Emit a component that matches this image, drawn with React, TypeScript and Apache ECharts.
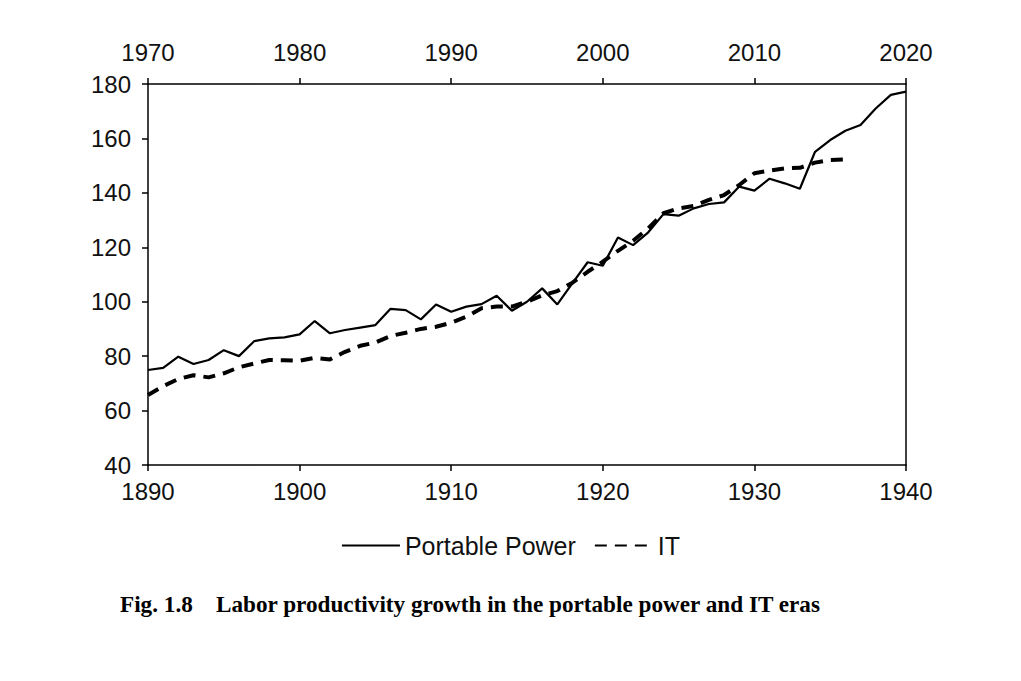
import React, { useEffect, useRef } from "react";
import * as echarts from "echarts";

const ppYears = [1890,1891,1892,1893,1894,1895,1896,1897,1898,1899,1900,1901,1902,1903,1904,1905,1906,1907,1908,1909,1910,1911,1912,1913,1914,1915,1916,1917,1918,1919,1920,1921,1922,1923,1924,1925,1926,1927,1928,1929,1930,1931,1932,1933,1934,1935,1936,1937,1938,1939,1940];
const ppValues = [74.9,75.7,79.8,77.1,78.6,82.2,80,85.5,86.5,86.9,88,92.9,88.4,89.6,90.5,91.4,97.4,96.9,93.5,99,96.3,98.2,99.1,102.2,96.7,100,104.9,99,106.8,114.5,113.2,123.6,120.8,125.5,132.2,131.6,134.3,135.9,136.5,142.3,140.8,145.2,143.5,141.5,155.1,159.4,162.8,164.9,171,176,177.2];
const itYears = [1970,1971,1972,1973,1974,1975,1976,1977,1978,1979,1980,1981,1982,1983,1984,1985,1986,1987,1988,1989,1990,1991,1992,1993,1994,1995,1996,1997,1998,1999,2000,2001,2002,2003,2004,2005,2006,2007,2008,2009,2010,2011,2012,2013,2014,2015,2016];
const itValues = [65.7,69,71.6,73,72.2,73.7,75.9,77.3,78.6,78.5,78.3,79.4,78.8,81.6,83.8,85,87.4,88.6,90,90.8,92.3,94.5,97.6,98.2,98.2,100,102.3,103.9,107,111,114.7,118.7,122.4,127,132.5,134.3,135.2,137.4,139.2,142.9,147.2,148.2,149,149.2,151.1,152.1,152.3];

const bottomAxis = { min: 1890, max: 1940, interval: 10 };
const topAxis = { min: 1970, max: 2020, interval: 10 };
const yRange = { min: 40, max: 180, interval: 20 };

const seriesNames = ["Portable Power", "IT"];
const captionText = "Fig. 1.8    Labor productivity growth in the portable power and IT eras";

const FONT = "'Liberation Sans', Arial, sans-serif";

export default function App() {
  const ref = useRef<HTMLDivElement>(null);
  useEffect(() => {
    if (!ref.current) return;
    const chart = echarts.init(ref.current, null, { renderer: "svg" });
    const axisLine = { show: true, lineStyle: { color: "#000", width: 1.5 } };
    const axisTick = { show: true, length: 6, lineStyle: { color: "#000", width: 1.5 } };
    const axisLabel = {
      color: "#111",
      fontSize: 24,
      fontFamily: FONT,
      formatter: (v: number) => String(v),
    };
    chart.setOption({
      animation: false,
      backgroundColor: "#fff",
      grid: { left: 140, right: 107, top: 76, bottom: 208, containLabel: false },
      xAxis: [
        {
          type: "value",
          position: "bottom",
          ...bottomAxis,
          axisLine,
          axisTick,
          axisLabel: { ...axisLabel, margin: 14 },
          splitLine: { show: false },
        },
        {
          type: "value",
          position: "top",
          ...topAxis,
          axisLine,
          axisTick,
          axisLabel: { ...axisLabel, margin: 20 },
          splitLine: { show: false },
        },
      ],
      yAxis: [
        {
          type: "value",
          position: "left",
          ...yRange,
          axisLine,
          axisTick,
          axisLabel: { ...axisLabel, margin: 17 },
          splitLine: { show: false },
        },
        {
          type: "value",
          position: "right",
          ...yRange,
          axisLine,
          axisTick: { show: false },
          axisLabel: { show: false },
          splitLine: { show: false },
        },
      ],
      legend: {
        show: true,
        top: 520,
        left: "center",
        itemWidth: 58,
        itemHeight: 14,
        itemGap: 18,
        itemStyle: { opacity: 0 },
        textStyle: { color: "#111", fontSize: 25, fontFamily: FONT },
        data: seriesNames,
      },
      title: {
        text: captionText,
        left: 107,
        top: 579,
        textStyle: {
          fontFamily: "'Liberation Serif', 'Times New Roman', serif",
          fontWeight: "bold",
          fontSize: 23.2,
          color: "#000",
        },
      },
      series: [
        {
          name: seriesNames[0],
          type: "line",
          xAxisIndex: 0,
          yAxisIndex: 0,
          data: ppYears.map((y, i) => [y, ppValues[i]]),
          showSymbol: false,
          symbol: "none",
          lineStyle: { color: "#000", width: 2.2, type: "solid" },
          itemStyle: { color: "#000" },
        },
        {
          name: seriesNames[1],
          type: "line",
          xAxisIndex: 1,
          yAxisIndex: 0,
          data: itYears.map((y, i) => [y, itValues[i]]),
          showSymbol: false,
          symbol: "none",
          lineStyle: { color: "#000", width: 4, type: [12, 8] },
          itemStyle: { color: "#000" },
        },
      ],
    });
    return () => chart.dispose();
  }, []);
  return <div ref={ref} style={{ width: 1005, height: 665 }} />;
}
